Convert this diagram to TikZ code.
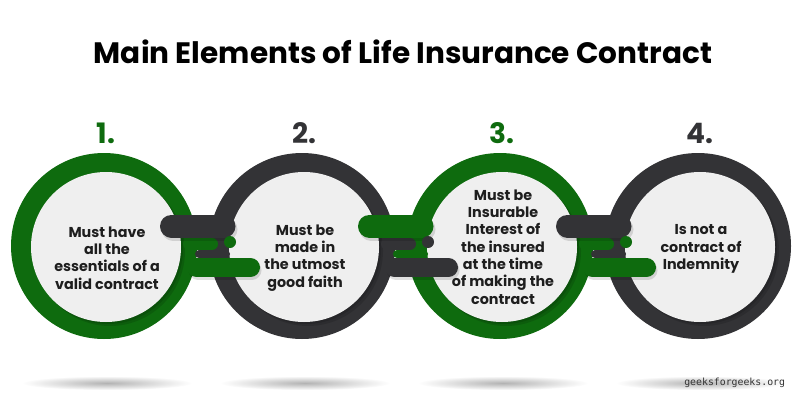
\documentclass[tikz,border=0pt]{standalone}
\usepackage{fontspec}
\setmainfont{Poppins}
\setmonofont{DejaVu Sans Mono}
\usetikzlibrary{positioning, calc}
\definecolor{ringgreen}{HTML}{0E6B0E}
\definecolor{ringdark}{HTML}{333336}
\definecolor{corefill}{HTML}{EFEFEF}
\definecolor{inktext}{HTML}{1E1E1E}
\def\px{0.025cm}

\begin{document}
\begin{tikzpicture}[x=0.025cm, y=-0.025cm,
  ring/.style={circle, fill=#1, minimum size=186*\px, inner sep=0pt},
  core/.style={circle, fill=corefill, minimum size=150*\px, inner sep=0pt},
  lbl/.style={font=\fontsize{10.2}{12.3}\selectfont\bfseries, text=inktext, align=center},
  num/.style={font=\fontsize{20}{24}\selectfont\bfseries, text=#1},
  pill/.style={line cap=round, line width=#1*\px}]
  \fill[white] (0,0) rectangle (800,400);
  \useasboundingbox (0,0) rectangle (800,400);

  % Title
  \node[font=\fontsize{21}{25}\selectfont\bfseries, text=black] (title) at (403,52)
    {Main Elements of Life Insurance Contract};

  % Floor shadows
  \foreach \i in {0,...,3}
    \shade[inner color=black!30, outer color=white] (107+198*\i, 383) ellipse (85 and 7);

  % Rings, cores and numbers
  \foreach \i/\col in {1/ringgreen, 2/ringdark, 3/ringgreen, 4/ringdark} {
    \node[ring=\col] (r\i) at (104+198*\i-198, 246) {};
    \fill[black, opacity=0.12] ($(r\i)+(6,5)$) circle (75);
    \fill[black, opacity=0.12] ($(r\i)+(4,3)$) circle (75);
    \node[core] (c\i) at ($(r\i)+(2,1)$) {};
    \node[num=\col] (n\i) at ($(r\i)+(2,-113)$) {\i.};
  }

  % Links between neighbours
  \foreach \i/\j/\lc/\rc in {1/2/ringgreen/ringdark, 2/3/ringdark/ringgreen,
                             3/4/ringgreen/ringdark} {
    \draw[pill=8, \rc] ($(r\i)+(95,8)$) -- ($(r\j)+(-76,8)$);
    \draw[pill=12, \lc] ($(r\i)+(85,-2)$) -- ($(r\i)+(108,-2)$);
    \draw[pill=23, black, opacity=0.12] ($(r\i)+(69,-17)$) -- ($(r\j)+(-76,-17)$);
    \draw[pill=23, \rc] ($(r\i)+(67.5,-20)$) -- ($(r\j)+(-78,-20)$);
    \draw[pill=19, black, opacity=0.12] ($(r\i)+(94,24)$) -- ($(r\j)+(-50,24)$);
    \draw[pill=19, \lc] ($(r\i)+(92.5,21.5)$) -- ($(r\j)+(-51.5,21.5)$);
    \fill[\lc] ($(r\i)+(126,-4)$) circle (6);
  }

  % Texts
  \foreach \i/\dy/\txt in {1/12/{Must have\\all the\\essentials of a\\valid contract},
                           2/12/{Must be\\made in\\the utmost\\good faith},
                           3/1/{Must be\\Insurable\\Interest of\\the insured\\at the time\\of making the\\contract},
                           4/3/{Is not a\\contract of\\Indemnity}}
    \node[lbl] (t\i) at ($(r\i)+(3,\dy)$) {\txt};

  % Watermark
  \node[font=\ttfamily\fontsize{7}{8}\selectfont, text=black!80, anchor=east] (mark)
    at (790,383) {geeksforgeeks.org};
\end{tikzpicture}
\end{document}
